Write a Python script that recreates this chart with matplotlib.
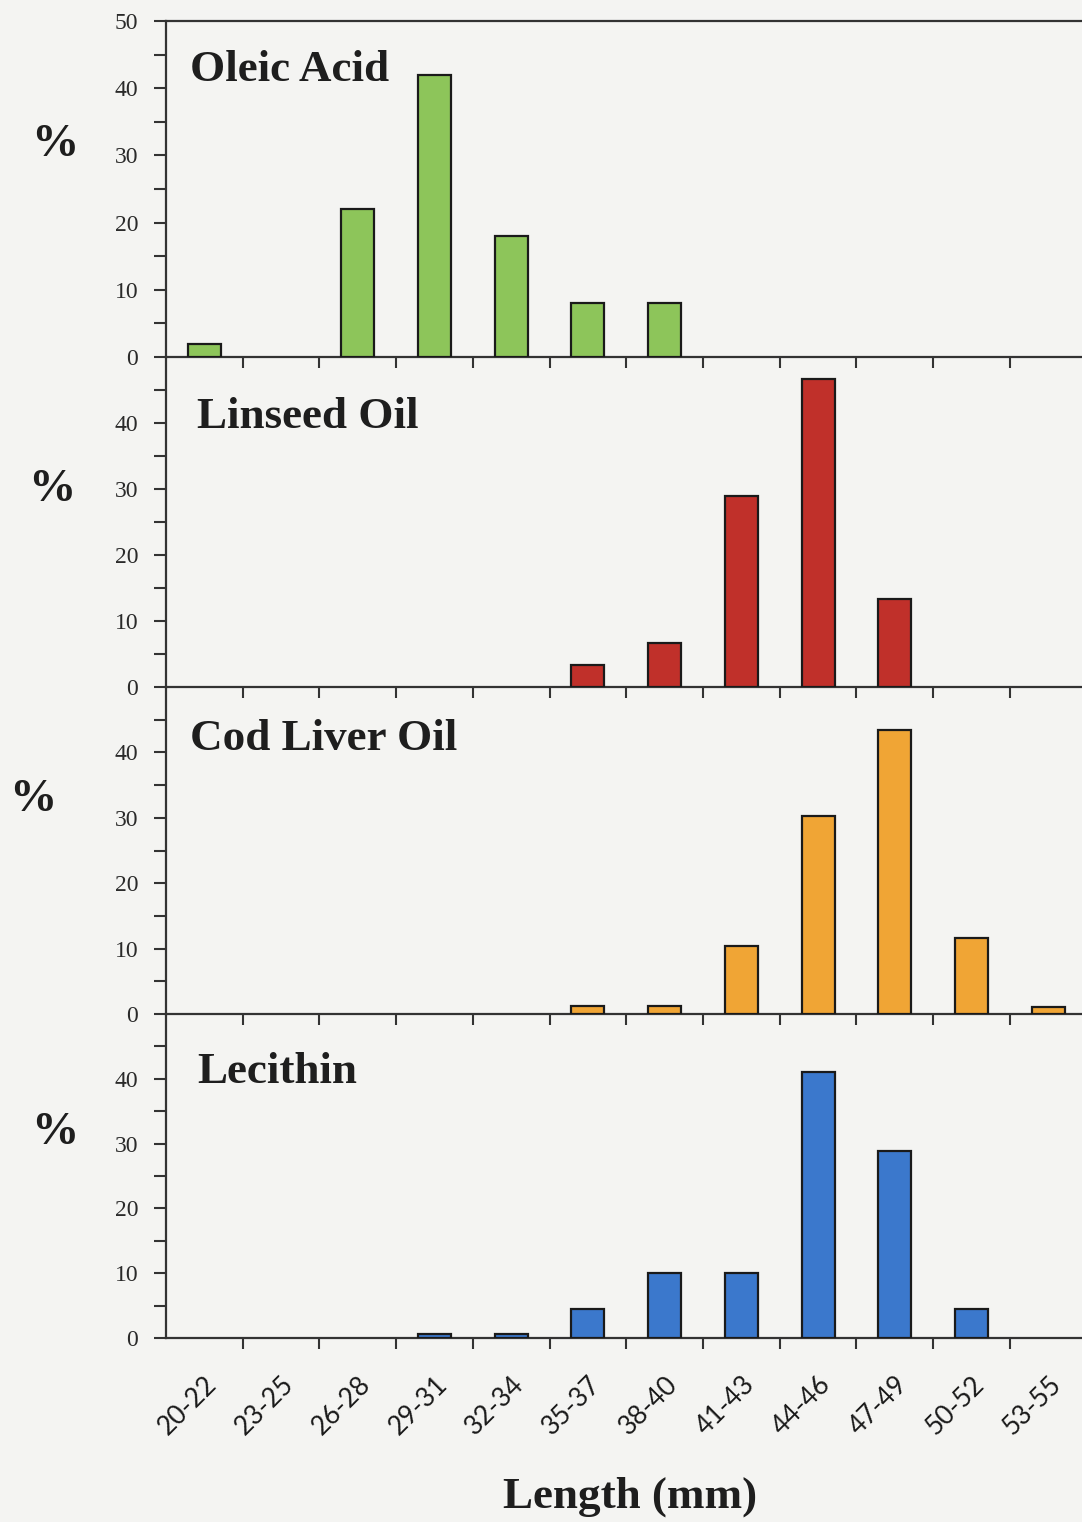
import matplotlib.pyplot as plt
import numpy as np

# ---- data ----
lengths = ["20-22", "23-25", "26-28", "29-31", "32-34", "35-37",
           "38-40", "41-43", "44-46", "47-49", "50-52", "53-55"]

oleic = [2, 0, 22, 42, 18, 8, 8, 0, 0, 0, 0, 0]
linseed = [0, 0, 0, 0, 0, 3.3, 6.7, 29, 46.7, 13.3, 0, 0]
cod_liver = [0, 0, 0, 0, 0, 1.2, 1.2, 10.4, 30.2, 43.5, 11.6, 1.1]
lecithin = [0, 0, 0, 0.6, 0.6, 4.4, 10, 10, 41, 28.8, 4.4, 0]

names = ["Oleic Acid", "Linseed Oil", "Cod Liver Oil", "Lecithin"]
series = [oleic, linseed, cod_liver, lecithin]
colors = ["#8dc55a", "#c0302a", "#f0a535", "#3b78cc"]

W, H = 1082, 1522
bg = "#f4f4f2"
ink = "#1e1e1e"

fig = plt.figure(figsize=(W / 100, H / 100), dpi=100, facecolor=bg)

# panel edges in pixels (top, bottom)
edges = [(21, 357), (357, 687), (687, 1014), (1014, 1338)]
left_px = 166
title_pos = [(190, 0.855), (197, 0.818), (190, 0.84), (197, 0.82)]
pct_pos = [(55, 145), (52, 490), (33, 800), (55, 1133)]

x = np.arange(len(lengths))
serif = "Liberation Serif"

for k, (vals, name, col) in enumerate(zip(series, names, colors)):
    top, bot = edges[k]
    ax = fig.add_axes([left_px / W, 1 - bot / H, 1 - left_px / W, (bot - top) / H])
    ax.set_facecolor("none")
    v = np.array(vals, dtype=float)
    keep = v > 0
    ax.bar(x[keep], v[keep], width=0.43, color=col, edgecolor="#1a1a1a",
           linewidth=1.6, zorder=3)
    ax.set_xlim(-0.5, 11.44)
    ax.set_ylim(0, 50)

    ax.spines["right"].set_visible(False)
    ax.spines["top"].set_visible(k == 0)
    for s in ["left", "bottom", "top"]:
        ax.spines[s].set_color("#333333")
        ax.spines[s].set_linewidth(1.6)

    # y ticks
    yt = [0, 10, 20, 30, 40] + ([50] if k == 0 else [])
    ax.set_yticks(yt)
    ax.set_yticks(np.arange(5, 50, 10), minor=True)
    ax.tick_params(axis="y", which="both", direction="out", length=9, width=1.5,
                   color="#333333", pad=11)
    for lab in ax.get_yticklabels():
        lab.set_fontfamily(serif)
        lab.set_fontsize(17)
        lab.set_color("#2a2a2a")

    # x ticks: marks at boundaries, labels at centres
    ax.set_xticks(np.arange(0.5, 11, 1), minor=True)
    ax.tick_params(axis="x", which="minor", direction="out", length=8, width=1.5,
                   color="#333333")
    ax.set_xticks(x)
    if k == 3:
        ax.set_xticklabels(lengths, rotation=45, ha="right", rotation_mode="anchor",
                           fontsize=19, fontfamily="Lato", color="#1a1a1a")
        ax.tick_params(axis="x", which="major", length=0, pad=24)
    else:
        ax.set_xticklabels([])
        ax.tick_params(axis="x", which="major", length=0)

    tx, ty = title_pos[k]
    ax.text((tx - left_px) / (W - left_px), ty, name, transform=ax.transAxes,
            fontsize=32.5, fontweight="bold", fontfamily=serif, color=ink,
            ha="left", va="center")

    px, py = pct_pos[k]
    fig.text(px / W, 1 - py / H, "%", fontsize=34, fontweight="bold",
             fontfamily=serif, color=ink, ha="center", va="center")

fig.text(630 / W, 1 - 1497 / H, "Length (mm)", fontsize=32.5, fontweight="bold",
         fontfamily=serif, color=ink, ha="center", va="center")

fig.savefig("out.png", dpi=100, facecolor=bg)
